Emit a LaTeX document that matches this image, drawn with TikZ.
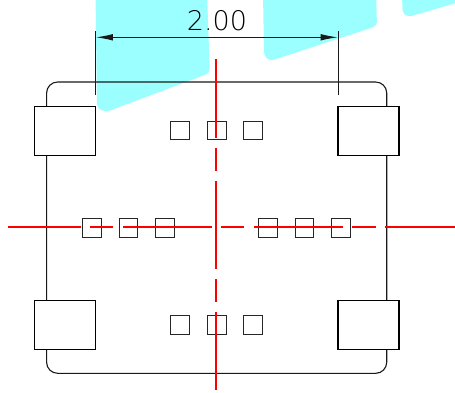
\documentclass[tikz,border=0pt]{standalone}
\usepackage{fontspec}
\newfontfamily\dimfont{DejaVu Sans ExtraLight}
\usetikzlibrary{arrows.meta,positioning}
\definecolor{tapecyan}{HTML}{9BFFFF}
\begin{document}
\begin{tikzpicture}[x=1pt,y=-1pt,
    pad/.style={draw,line width=1.1pt,minimum width=61pt,minimum height=49pt,inner sep=0pt,outer sep=0pt},
    via/.style={draw,black!85,line width=1.1pt,minimum size=18.6pt,inner sep=0pt,outer sep=0pt},
    redline/.style={red,line width=1.7pt},
    tape/.style={fill=tapecyan,draw=none,rounded corners=4pt},
    dimline/.style={draw,black!90,line width=1pt}
  ]
    \useasboundingbox (0,0) rectangle (455,392);
    % Cyan shapes behind the part
    \path[tape] (95.5,-8) -- (207,-8) -- (209.8,73) -- (106,112) -- (97,108) -- cycle;
    \path[tape] (263,-8) -- (376,-8) -- (377,26) -- (270,61) -- (264,56) -- cycle;
    \path[tape] (402,-8) -- (463,-8) -- (463,1) -- (408,17) -- (402.5,13) -- cycle;

    % Body outline
    \draw[black!90,line width=1.1pt,rounded corners=11pt] (46.6,82) rectangle (386.7,373.3);

    % Corner pads
    \node[pad,fill=white] (padtl) at (65,130.7) {};
    \node[pad,fill=white] (padtr) at (368.5,130.7) {};
    \node[pad,fill=white] (padbl) at (65,324.8) {};
    \node[pad,fill=white] (padbr) at (368.5,324.8) {};

    % Small squares
    \foreach \x/\n in {180/a,216.9/b,253/c} {
        \node[via] (top\n) at (\x,130.5) {};
        \node[via] (bot\n) at (\x,324.8) {};
    }
    \foreach \x/\n in {92/a,128.5/b,164.8/c,268/d,304.5/e,341.2/f}
        \node[via] (mid\n) at (\x,227.8) {};

    % Centre lines
    \foreach \xa/\xb in {8/80.5,90/113,123/212,221/244.3,254/343,352.3/375.7,385.3/455}
        \draw[redline] (\xa,227.3) -- (\xb,227.3);
    \foreach \ya/\yb in {59/138,148/171,181/269.3,279.3/302.3,312/390}
        \draw[redline] (216.3,\ya) -- (216.3,\yb);

    % Dimension
    \coordinate (dimla) at (95.5,31);
    \coordinate (dimlb) at (95.5,94.5);
    \coordinate (dimra) at (338,31);
    \coordinate (dimrb) at (338,94.5);
    \draw[dimline] (dimla) -- (dimlb);
    \draw[dimline] (dimra) -- (dimrb);
    \draw[dimline,{Latex[length=17pt,width=6.5pt]}-{Latex[length=17pt,width=6.5pt]}] (95.8,37.3) -- (337.7,37.3);
    \node[font=\dimfont\fontsize{27}{27}\selectfont,inner sep=0pt,anchor=base] (dimtext) at (217,30.5) {2.00};
  \end{tikzpicture}
\end{document}
